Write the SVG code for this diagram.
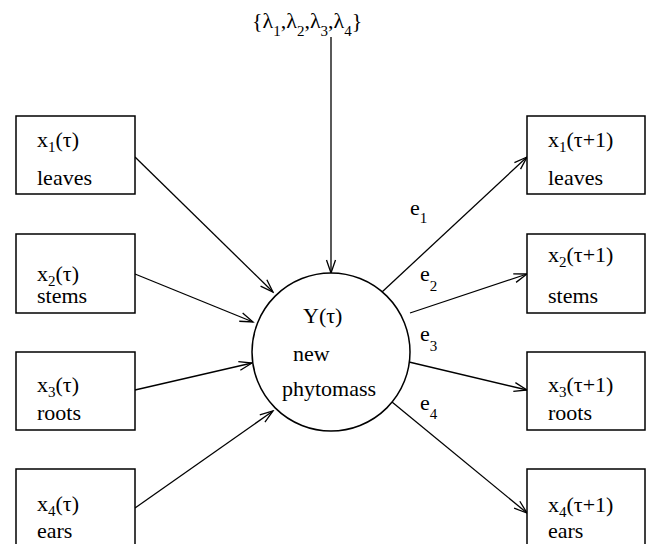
<svg xmlns="http://www.w3.org/2000/svg" width="646" height="544" viewBox="0 0 646 544">
<style>
text{font-family:"Liberation Serif","Times New Roman",serif;font-size:22px;fill:#000}
.sub{font-size:15px}
.box{fill:#fff;stroke:#000;stroke-width:1.5}
.node{fill:#fff;stroke:#000;stroke-width:1.5}
.c{stroke:#000;stroke-width:1.3;fill:none}
</style>
<defs>
<marker id="arr" markerUnits="userSpaceOnUse" markerWidth="16" markerHeight="12" refX="14" refY="6" orient="auto" viewBox="0 0 16 12">
<path d="M1,1.5 L14,6 L1,10.5" fill="none" stroke="#000" stroke-width="1.3"/>
</marker>
</defs>
<rect width="646" height="544" fill="#fff"/>
<g id="connectors">
<line class="c" x1="331" y1="37" x2="331" y2="273" marker-end="url(#arr)"/>
<line class="c" x1="135" y1="157" x2="273" y2="292" marker-end="url(#arr)"/>
<line class="c" x1="135" y1="274" x2="253" y2="322" marker-end="url(#arr)"/>
<line class="c" x1="135" y1="390" x2="252" y2="363" marker-end="url(#arr)"/>
<line class="c" x1="135" y1="508" x2="273" y2="411" marker-end="url(#arr)"/>
<line class="c" x1="382" y1="292" x2="527" y2="157" marker-end="url(#arr)"/>
<line class="c" x1="410" y1="313" x2="527" y2="274" marker-end="url(#arr)"/>
<line class="c" x1="409" y1="362" x2="527" y2="390" marker-end="url(#arr)"/>
<line class="c" x1="392" y1="402" x2="527" y2="513" marker-end="url(#arr)"/>
<text x="410" y="215">e<tspan class="sub" dy="8">1</tspan></text>
<text x="420" y="281">e<tspan class="sub" dy="10">2</tspan></text>
<text x="420" y="341">e<tspan class="sub" dy="10">3</tspan></text>
<text x="420" y="410">e<tspan class="sub" dy="9">4</tspan></text>
</g>
<g id="lambda">
<text x="252" y="28">{λ<tspan class="sub" dy="8">1</tspan><tspan dy="-8">,λ</tspan><tspan class="sub" dy="8">2</tspan><tspan dy="-8">,λ</tspan><tspan class="sub" dy="8">3</tspan><tspan dy="-8">,λ</tspan><tspan class="sub" dy="8">4</tspan><tspan dy="-8">}</tspan></text>
</g>
<g id="Y">
<circle class="node" cx="331" cy="352" r="79"/>
<text x="303" y="323">Y(τ)</text>
<text x="293" y="361">new</text>
<text x="282" y="396">phytomass</text>
</g>
<g id="x1">
<rect class="box" x="16" y="116" width="119" height="78"/>
<text x="37" y="147">x<tspan class="sub" dy="5">1</tspan><tspan dy="-5">(τ)</tspan></text>
<text x="37" y="185">leaves</text>
</g>
<g id="x2">
<rect class="box" x="16" y="234" width="119" height="79"/>
<text x="37" y="281">x<tspan class="sub" dy="5">2</tspan><tspan dy="-5">(τ)</tspan></text>
<text x="37" y="303">stems</text>
</g>
<g id="x3">
<rect class="box" x="16" y="352" width="119" height="78"/>
<text x="37" y="392">x<tspan class="sub" dy="5">3</tspan><tspan dy="-5">(τ)</tspan></text>
<text x="37" y="420">roots</text>
</g>
<g id="x4">
<rect class="box" x="16" y="469" width="119" height="80"/>
<text x="37" y="511">x<tspan class="sub" dy="5">4</tspan><tspan dy="-5">(τ)</tspan></text>
<text x="37" y="538">ears</text>
</g>
<g id="x1n">
<rect class="box" x="527" y="116" width="118" height="78"/>
<text x="548" y="147">x<tspan class="sub" dy="5">1</tspan><tspan dy="-5">(τ+1)</tspan></text>
<text x="548" y="185">leaves</text>
</g>
<g id="x2n">
<rect class="box" x="527" y="234" width="118" height="79"/>
<text x="548" y="262">x<tspan class="sub" dy="5">2</tspan><tspan dy="-5">(τ+1)</tspan></text>
<text x="548" y="303">stems</text>
</g>
<g id="x3n">
<rect class="box" x="527" y="352" width="118" height="78"/>
<text x="548" y="392">x<tspan class="sub" dy="5">3</tspan><tspan dy="-5">(τ+1)</tspan></text>
<text x="548" y="420">roots</text>
</g>
<g id="x4n">
<rect class="box" x="527" y="469" width="118" height="80"/>
<text x="548" y="512">x<tspan class="sub" dy="5">4</tspan><tspan dy="-5">(τ+1)</tspan></text>
<text x="548" y="538">ears</text>
</g>
</svg>
